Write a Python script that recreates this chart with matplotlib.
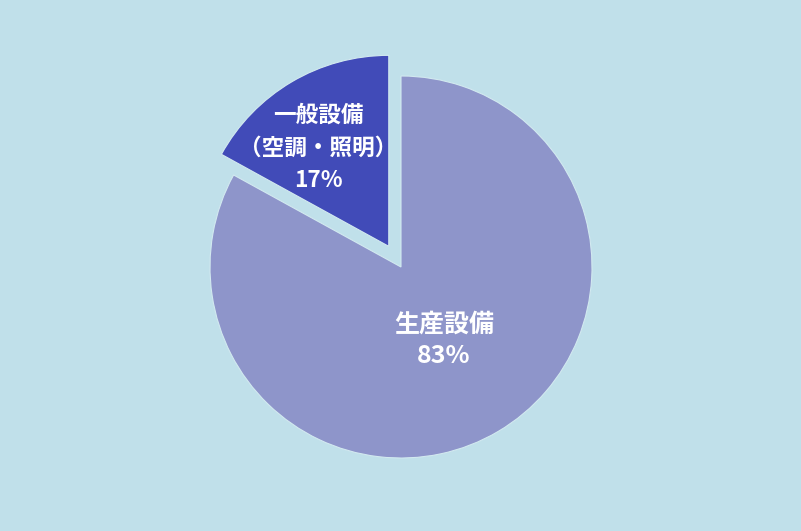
import matplotlib.pyplot as plt

plt.rcParams['font.family'] = ['Noto Sans CJK JP', 'DejaVu Sans']

# Data
labels = ['生産設備', '一般設備\n（空調・照明）']
shares = [83, 17]
colors = ['#8e95ca', '#414bb8']

fig = plt.figure(figsize=(8.01, 5.31), dpi=100)
fig.patch.set_facecolor('#c0e0ea')
ax = fig.add_axes([0, 0, 1, 1])
ax.set_facecolor('#c0e0ea')

# explode is in data units here (axes are in pixels)
wedges, _ = ax.pie(shares, colors=colors, explode=[0, 24], startangle=90,
                   counterclock=False, center=(401, 264), radius=191,
                   wedgeprops=dict(edgecolor='#d2e9f0', linewidth=0.8))

ax.set_xlim(0, 801)
ax.set_ylim(0, 531)
ax.set_aspect('equal')
ax.axis('off')

# Labels
ax.text(444, 191, labels[0] + '\n' + f'{shares[0]}%', ha='center', va='center',
        color='white', fontsize=18, fontweight='bold', linespacing=1.4)
ax.text(318, 383, labels[1] + '\n' + f'{shares[1]}%', ha='center', va='center',
        color='white', fontsize=16.3, fontweight='bold', linespacing=1.55)

fig.savefig('out.png', dpi=100, facecolor=fig.get_facecolor())
